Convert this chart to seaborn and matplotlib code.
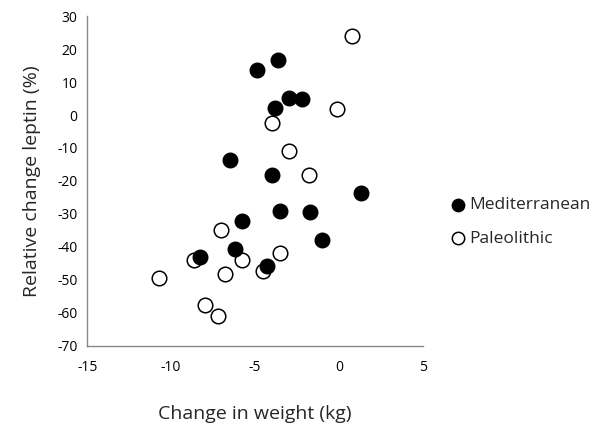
import pandas as pd
import matplotlib
matplotlib.use("Agg")
import matplotlib.pyplot as plt
import seaborn as sns

# Mediterranean (filled) and Paleolithic (open) points
med_weight = [-3.6, -4.9, -3.0, -2.2, -3.8, -6.5, -4.0, 1.3, -3.5, -1.7, -5.8, -1.0, -6.2, -8.3, -4.3]
med_leptin = [16.8, 13.6, 5.3, 4.9, 2.0, -13.5, -18.1, -23.5, -29.1, -29.3, -32.2, -38.0, -40.7, -42.9, -45.9]
paleo_weight = [0.8, -0.1, -4.0, -3.0, -1.8, -7.0, -3.5, -8.65, -5.8, -4.5, -6.8, -10.7, -8.0, -7.2]
paleo_leptin = [24.0, 1.9, -2.5, -10.8, -18.3, -35.0, -41.8, -43.9, -44.1, -47.2, -48.2, -49.4, -57.6, -61.0]

df = pd.concat([
    pd.DataFrame({"weight": med_weight, "leptin": med_leptin, "diet": "Mediterranean"}),
    pd.DataFrame({"weight": paleo_weight, "leptin": paleo_leptin, "diet": "Paleolithic"}),
], ignore_index=True)

sns.set_theme(style="white")
plt.rcParams['font.family'] = ['Open Sans', 'DejaVu Sans']
plt.rcParams['axes.unicode_minus'] = False

fig = plt.figure(figsize=(6, 4.34), dpi=100)
ax = fig.add_axes([0.1455, 0.203, 0.559, 0.760])

# open circles first so filled ones sit on top, as in the original
sns.scatterplot(data=df[df.diet == "Paleolithic"], x="weight", y="leptin", ax=ax,
                s=110, color="white", edgecolor="black", linewidth=1.1,
                label="Paleolithic", zorder=3)
sns.scatterplot(data=df[df.diet == "Mediterranean"], x="weight", y="leptin", ax=ax,
                s=110, color="black", edgecolor="black", linewidth=1.0,
                label="Mediterranean", zorder=4)

ax.set_xlim(-15, 5)
ax.set_ylim(-70, 30)
ax.set_xticks([-15, -10, -5, 0, 5])
ax.set_yticks(range(-70, 31, 10))

for side in ["top", "right"]:
    ax.spines[side].set_visible(False)
for side in ["left", "bottom"]:
    ax.spines[side].set_color("#888888")
    ax.spines[side].set_linewidth(1.0)
ax.tick_params(axis="both", direction="out", length=4, width=1.0, color="#888888",
               labelsize=10, labelcolor="black", pad=3)
ax.tick_params(axis="x", pad=6)

ax.set_xlabel("Change in weight (kg)", fontsize=14, labelpad=22)
ax.set_ylabel("Relative change leptin (%)", fontsize=14, labelpad=12)

handles, labels = ax.get_legend_handles_labels()
order = [labels.index("Mediterranean"), labels.index("Paleolithic")]
ax.legend([handles[i] for i in order], [labels[i] for i in order],
          loc="upper left", bbox_to_anchor=(0.738, 0.562), bbox_transform=fig.transFigure,
          frameon=False, fontsize=12.5, handletextpad=0.15, labelspacing=1.0,
          borderaxespad=0, handlelength=1.0, markerscale=0.85)

plt.savefig("out.png", dpi=100)
